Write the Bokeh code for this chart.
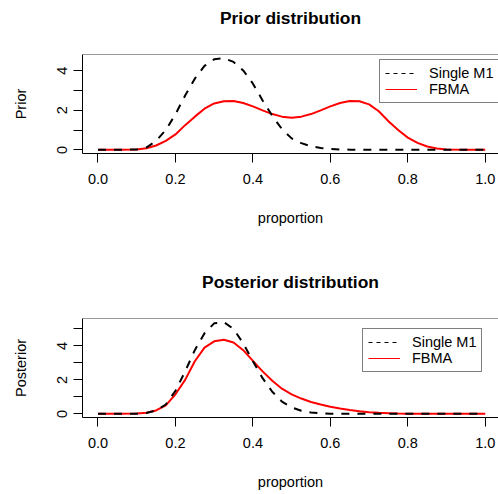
from bokeh.plotting import figure
from bokeh.layouts import column
from bokeh.models import (FixedTicker, NumeralTickFormatter, Legend, LegendItem,
                          Span, Range1d, Title)
from bokeh.embed import file_html
from bokeh.resources import INLINE

# ---------------- data ----------------
proportion = [0.0, 0.05, 0.1, 0.125, 0.15, 0.175, 0.2, 0.225, 0.25, 0.275,
              0.3, 0.325, 0.35, 0.375, 0.4, 0.425, 0.45, 0.475, 0.5, 0.525,
              0.55, 0.575, 0.6, 0.625, 0.65, 0.675, 0.7, 0.725, 0.75, 0.775,
              0.8, 0.825, 0.85, 0.875, 0.9, 0.95, 1.0]

prior_single = [0.0, 0.0, 0.02, 0.12, 0.45, 1.0, 1.8, 2.75, 3.6, 4.25,
                4.58, 4.64, 4.45, 4.02, 3.35, 2.5, 1.72, 1.05, 0.58, 0.34,
                0.18, 0.09, 0.04, 0.02, 0.01, 0.0, 0.0, 0.0, 0.0, 0.0,
                0.0, 0.0, 0.0, 0.0, 0.0, 0.0, 0.0]

prior_fbma = [0.0, 0.0, 0.02, 0.08, 0.22, 0.45, 0.78, 1.25, 1.68, 2.08,
              2.35, 2.46, 2.47, 2.37, 2.2, 2.0, 1.81, 1.68, 1.62, 1.68,
              1.81, 2.0, 2.2, 2.37, 2.47, 2.46, 2.3, 1.95, 1.45, 1.0,
              0.62, 0.35, 0.17, 0.07, 0.02, 0.0, 0.0]

post_single = [0.0, 0.0, 0.01, 0.05, 0.2, 0.55, 1.35, 2.5, 3.75, 4.75,
               5.33, 5.4, 5.0, 4.15, 3.1, 2.1, 1.3, 0.72, 0.38, 0.18,
               0.08, 0.03, 0.01, 0.0, 0.0, 0.0, 0.0, 0.0, 0.0, 0.0,
               0.0, 0.0, 0.0, 0.0, 0.0, 0.0, 0.0]

post_fbma = [0.0, 0.0, 0.02, 0.06, 0.2, 0.5, 1.15, 2.0, 3.1, 3.9,
             4.27, 4.36, 4.2, 3.75, 3.12, 2.5, 1.95, 1.48, 1.15, 0.9,
             0.7, 0.55, 0.42, 0.32, 0.23, 0.15, 0.1, 0.06, 0.04, 0.02,
             0.01, 0.0, 0.0, 0.0, 0.0, 0.0, 0.0]

x_ticks = [0.0, 0.2, 0.4, 0.6, 0.8, 1.0]
legend_labels = ["Single M1", "FBMA"]

FONT = "Liberation Sans"
NAN = float("nan")
FRAME_W = 416


def make_panel(title, ylab, single, fbma, height, border_bottom,
               y_major, y_minor, legend_xy):
    ymax = max(max(single), max(fbma))
    p = figure(width=498, height=height, output_backend="svg",
               toolbar_location=None,
               x_range=Range1d(-0.04, -0.04 + FRAME_W / 387.3),
               y_range=Range1d(-0.04 * ymax, 1.04 * ymax),
               min_border_left=82, min_border_right=0, min_border_top=54,
               min_border_bottom=border_bottom)
    p.outline_line_color = None
    p.background_fill_color = "white"
    p.border_fill_color = "white"
    p.xgrid.visible = False
    p.ygrid.visible = False

    # spacer between frame and title, then the title itself
    p.add_layout(Title(text=" ", text_font_size="2px", standoff=21), "above")
    p.add_layout(Title(text=title, text_font=FONT, text_font_size="17.4px",
                       text_font_style="bold", text_color="black",
                       align="center", standoff=4), "above")

    xa = p.xaxis[0]
    xa.ticker = FixedTicker(ticks=x_ticks)
    xa.formatter = NumeralTickFormatter(format="0.0")
    xa.major_tick_in = 0
    xa.major_tick_out = 9
    xa.minor_tick_line_color = None
    xa.axis_line_color = "black"
    xa.major_tick_line_color = "black"
    xa.major_label_text_font = FONT
    xa.major_label_text_font_size = "14.5px"
    xa.major_label_text_color = "black"
    xa.major_label_standoff = 11
    xa.axis_label = "proportion"
    xa.axis_label_text_font = FONT
    xa.axis_label_text_font_size = "14.5px"
    xa.axis_label_text_font_style = "normal"
    xa.axis_label_text_color = "black"
    xa.axis_label_standoff = 23

    ya = p.yaxis[0]
    ya.ticker = FixedTicker(ticks=y_major, minor_ticks=y_minor)
    ya.major_tick_in = 0
    ya.major_tick_out = 9
    ya.minor_tick_in = 0
    ya.minor_tick_out = 9
    ya.minor_tick_line_color = "black"
    ya.major_tick_line_color = "black"
    ya.axis_line_color = "black"
    ya.major_label_orientation = "vertical"
    ya.major_label_text_font = FONT
    ya.major_label_text_font_size = "14.5px"
    ya.major_label_text_color = "black"
    ya.major_label_standoff = 6
    ya.axis_label = ylab
    ya.axis_label_text_font = FONT
    ya.axis_label_text_font_size = "14.5px"
    ya.axis_label_text_font_style = "normal"
    ya.axis_label_text_color = "black"
    ya.axis_label_standoff = 26

    # top border of the box
    p.add_layout(Span(location=1.04 * ymax, dimension="width",
                      line_color="#333333", line_width=1))

    p.line(proportion, fbma, line_color="red", line_width=2)
    p.line(proportion, single, line_color="black", line_width=2,
           line_dash="8 8")

    # legend samples (thin lines; NaN data so nothing is drawn in the plot)
    r1 = p.line([NAN, NAN], [NAN, NAN], line_color="black", line_width=1,
                line_dash="4 4")
    r2 = p.line([NAN, NAN], [NAN, NAN], line_color="red", line_width=1)
    legend = Legend(items=[LegendItem(label=legend_labels[0], renderers=[r1]),
                           LegendItem(label=legend_labels[1], renderers=[r2])],
                    location=legend_xy, margin=0, padding=5, spacing=0,
                    label_height=16, glyph_height=16, glyph_width=32,
                    label_standoff=12, label_text_font=FONT,
                    label_text_font_size="14.5px",
                    label_text_color="black",
                    border_line_color="black", border_line_width=1,
                    background_fill_color="white", background_fill_alpha=1)
    p.add_layout(legend)
    return p


p1 = make_panel("Prior distribution", "Prior", prior_single, prior_fbma,
                264, 111, [0, 2, 4], [1, 3], (297, 50))
p2 = make_panel("Posterior distribution", "Posterior", post_single, post_fbma,
                230, 77, [0, 2, 4], [1, 3, 5], (280, 45))

layout = column(p1, p2, spacing=0)
open("out.html", "w").write(file_html(layout, INLINE))
